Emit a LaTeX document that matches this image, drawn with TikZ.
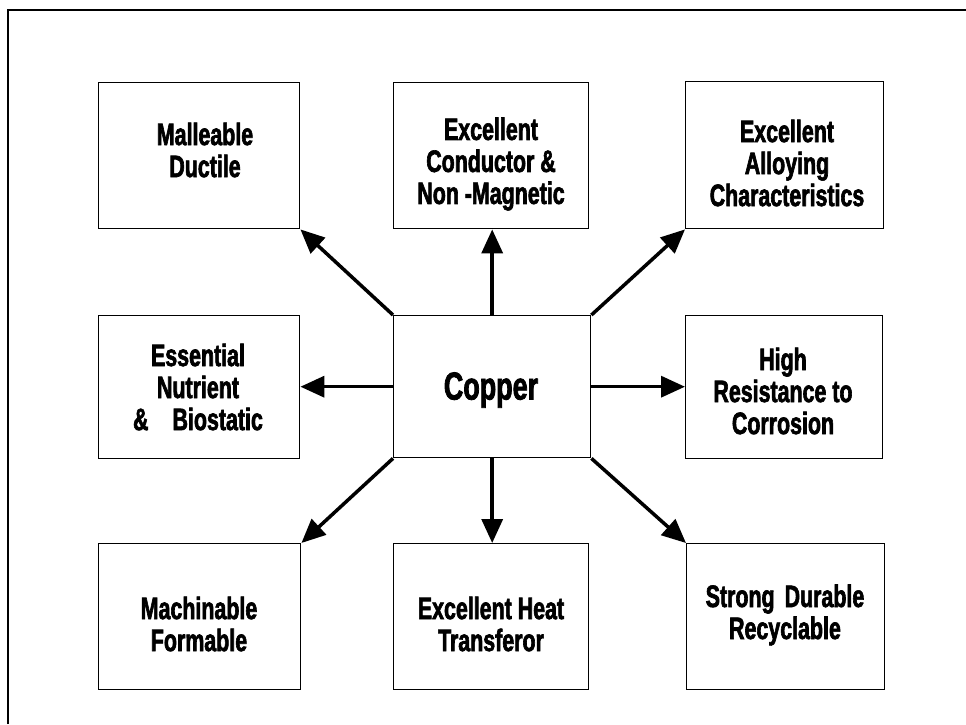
\documentclass[tikz,border=0pt]{standalone}
\usepackage{fontspec}
\setmainfont{Liberation Sans}[FakeStretch=0.69, BoldFeatures={FakeBold=2}]
\usetikzlibrary{arrows.meta}
\begin{document}
\begin{tikzpicture}[x=1pt,y=-1pt,
  card/.style={draw=black, line width=1.4pt, inner sep=0pt, anchor=north west},
  caption/.style={font=\fontsize{31}{32}\selectfont\bfseries, align=center, inner sep=0pt, anchor=center},
  link/.style={draw=black, line width=3.5pt, -{Triangle[length=24pt,width=21pt]}}
]
\useasboundingbox (0,0) rectangle (966,724);

% outer frame (top and left edges)
\draw[line width=2pt] (8,724) -- (8,10) -- (966,10);

% boxes
\node[card, minimum width=201pt, minimum height=146pt] (b1) at (98,82) {};
\node[card, minimum width=195pt, minimum height=146pt] (b2) at (393,82) {};
\node[card, minimum width=198pt, minimum height=147pt] (b3) at (685,81) {};
\node[card, minimum width=201pt, minimum height=143pt] (b4) at (98,315) {};
\node[card, minimum width=197pt, minimum height=142pt] (c)  at (393,315) {};
\node[card, minimum width=197pt, minimum height=143pt] (b5) at (685,315) {};
\node[card, minimum width=202pt, minimum height=146pt] (b6) at (98,543) {};
\node[card, minimum width=195pt, minimum height=146pt] (b7) at (393,543) {};
\node[card, minimum width=198pt, minimum height=146pt] (b8) at (686,543) {};

% captions
\node[caption] (t1) at (205,150) {Malleable\\Ductile};
\node[caption] (t2) at (491,164) {Excellent\\Conductor \&\\Non -Magnetic};
\node[caption] (t3) at (787,163) {Excellent\\Alloying\\Characteristics};
\node[caption] (t4) at (198,387) {Essential\\Nutrient\\\&\hspace{24pt}Biostatic};
\node[caption, font=\fontsize{39}{44}\selectfont\bfseries] (t0) at (491,390) {Copper};
\node[caption] (t5) at (783,391) {High\\Resistance to\\Corrosion};
\node[caption] (t6) at (199,624) {Machinable\\Formable};
\node[caption] (t7) at (491,624) {Excellent Heat\\Transferor};
\node[caption] (t8) at (785,615) {Strong\hspace{10pt}Durable\\Recyclable};

% arrows from the centre box
\draw[link] (c.north west) -- (b1.south east);
\draw[link] (c.north) -- (b2.south -| c.north);
\draw[link] (c.north east) -- (b3.south west);
\draw[link] (c.west) -- (b4.east |- c.west);
\draw[link] (c.east) -- (b5.west |- c.east);
\draw[link] (c.south west) -- (b6.north east);
\draw[link] (c.south) -- (b7.north -| c.south);
\draw[link] (c.south east) -- (b8.north west);
\end{tikzpicture}
\end{document}
